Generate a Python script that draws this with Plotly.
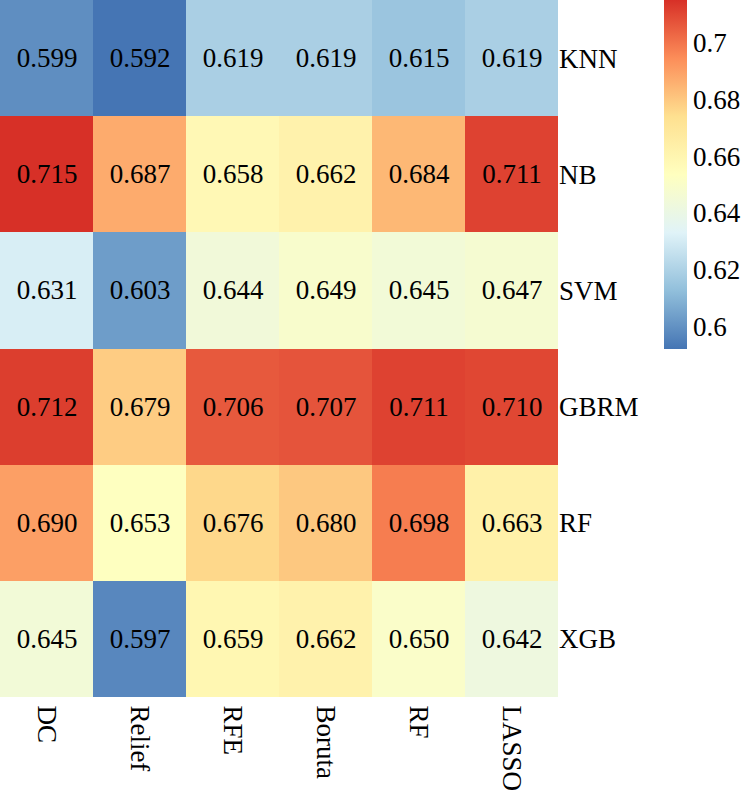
import plotly.graph_objects as go

methods = ["DC", "Relief", "RFE", "Boruta", "RF", "LASSO"]
models = ["KNN", "NB", "SVM", "GBRM", "RF", "XGB"]
knn = [0.599, 0.592, 0.619, 0.619, 0.615, 0.619]
nb = [0.715, 0.687, 0.658, 0.662, 0.684, 0.711]
svm = [0.631, 0.603, 0.644, 0.649, 0.645, 0.647]
gbrm = [0.712, 0.679, 0.706, 0.707, 0.711, 0.710]
rf = [0.690, 0.653, 0.676, 0.680, 0.698, 0.663]
xgb = [0.645, 0.597, 0.659, 0.662, 0.650, 0.642]
z = [knn, nb, svm, gbrm, rf, xgb]
cb_ticks = [0.6, 0.62, 0.64, 0.66, 0.68, 0.7]

palette = ["#4575b4", "#91bfdb", "#e0f3f8", "#ffffbf", "#fee090", "#fc8d59", "#d73027"]
cscale = [[i / (len(palette) - 1), c] for i, c in enumerate(palette)]

font = "Liberation Serif, Times New Roman, serif"
W, H = 745, 792
L, R, T, B = 0, 187, 0, 95
pw = W - L - R

fig = go.Figure(go.Heatmap(
    z=z, x=methods, y=models,
    colorscale=cscale,
    texttemplate="%{z:.3f}",
    textfont=dict(family=font, size=27, color="black"),
    xgap=0, ygap=0,
    colorbar=dict(
        thickness=23, thicknessmode="pixels",
        len=349, lenmode="pixels",
        x=664 / pw, xanchor="left", xpad=0,
        y=1, yanchor="top", ypad=0,
        outlinewidth=0,
        tickvals=cb_ticks,
        ticks="",
        tickfont=dict(family=font, size=27, color="black"),
    ),
))

fig.update_layout(
    width=W, height=H,
    margin=dict(l=L, r=R, t=T, b=B, autoexpand=False),
    paper_bgcolor="white", plot_bgcolor="white",
    font=dict(family=font, size=27, color="black"),
    xaxis=dict(side="bottom", tickangle=90, ticks="outside", ticklen=2, tickcolor="rgba(0,0,0,0)",
               showgrid=False, zeroline=False, automargin=False,
               tickfont=dict(family=font, size=27)),
    yaxis=dict(side="right", autorange="reversed", ticks="", showgrid=False,
               zeroline=False, automargin=False, tickfont=dict(family=font, size=27)),
)

fig.write_html("out.html", config={"displayModeBar": False},
               post_script="document.body.style.margin='0';")
